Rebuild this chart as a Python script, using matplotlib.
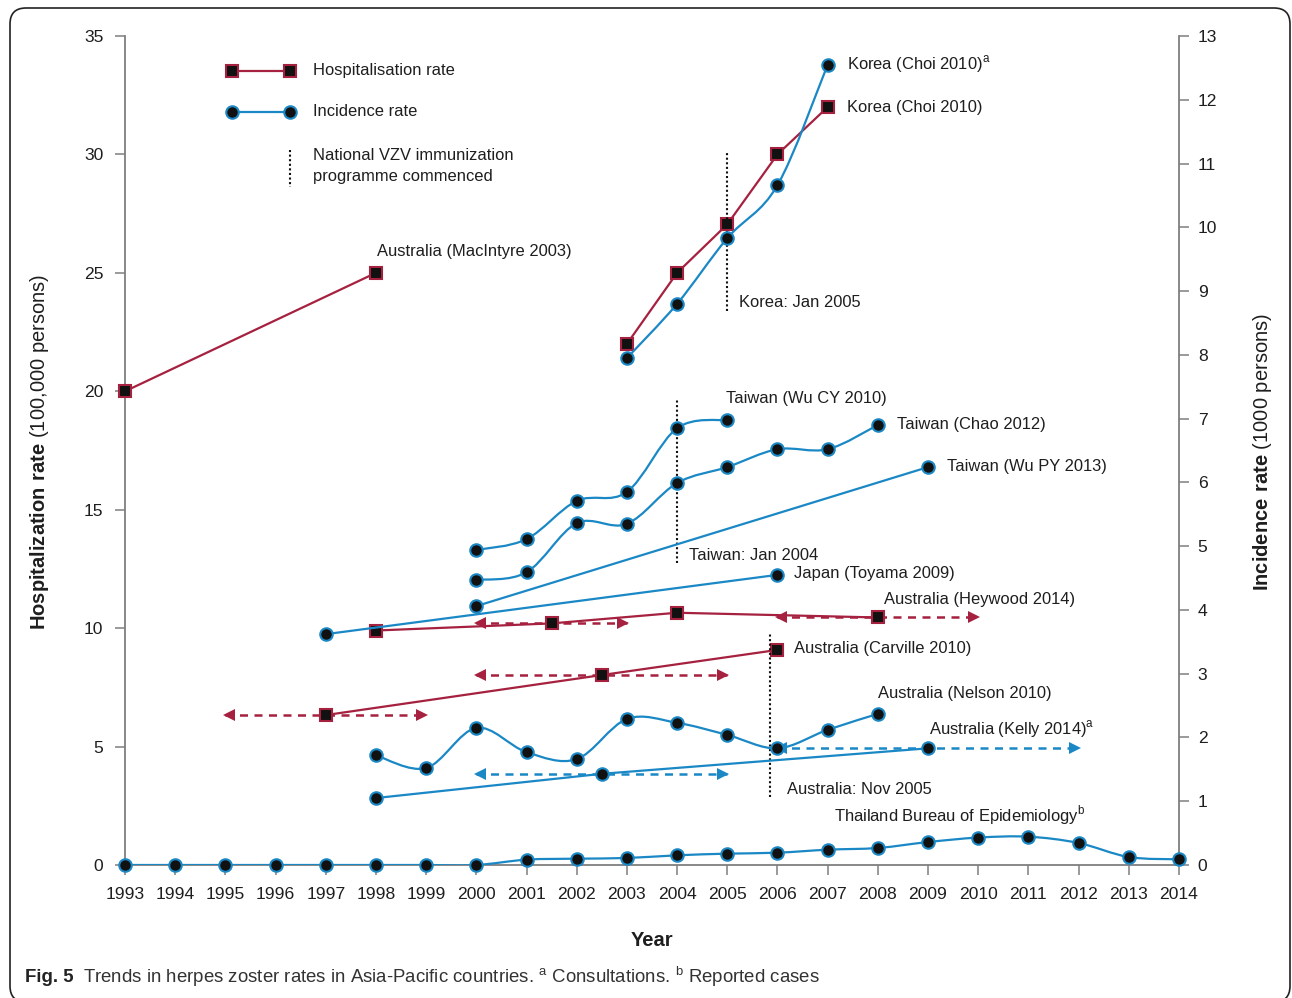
import numpy as np
import matplotlib
matplotlib.use("Agg")
import matplotlib.pyplot as plt
from matplotlib.path import Path
from matplotlib.patches import PathPatch, FancyBboxPatch
from matplotlib.transforms import IdentityTransform

plt.rcParams['font.family'] = ['Liberation Sans', 'DejaVu Sans']
plt.rcParams['mathtext.fontset'] = 'custom'
plt.rcParams['mathtext.rm'] = 'Liberation Sans'
plt.rcParams['mathtext.bf'] = 'Liberation Sans:bold'

# ---------------- data ----------------
years_axis = list(range(1993, 2015))

# Hospitalisation rates (per 100,000) - left axis
macintyre_years = [1993, 1998]
macintyre_rate = [20.0, 25.0]

korea_hosp_years = [2003, 2004, 2005, 2006, 2007]
korea_hosp_rate = [22.0, 25.0, 27.05, 30.0, 32.0]

heywood_years = [1998, 2001.5, 2004, 2008]
heywood_rate = [9.9, 10.2, 10.65, 10.45]
heywood_spans = [(2000, 2003), (2006, 2010)]
heywood_span_centres = [2001.5, 2008]

carville_years = [1997, 2002.5, 2006]
carville_rate = [6.33, 8.02, 9.08]
carville_spans = [(1995, 1999), (2000, 2005)]
carville_span_centres = [1997, 2002.5]

# Incidence rates (per 1000) - right axis
korea_inc_years = [2003, 2004, 2005, 2006, 2007]
korea_inc_rate = [7.95, 8.80, 9.83, 10.66, 12.55]

wucy_years = [2000, 2001, 2002, 2003, 2004, 2005]
wucy_rate = [4.94, 5.11, 5.71, 5.85, 6.85, 6.98]

chao_years = [2000, 2001, 2002, 2003, 2004, 2005, 2006, 2007, 2008]
chao_rate = [4.47, 4.59, 5.36, 5.35, 5.99, 6.24, 6.52, 6.52, 6.90]

wupy_years = [2000, 2009]
wupy_rate = [4.06, 6.24]

toyama_years = [1997, 2006]
toyama_rate = [3.62, 4.55]

nelson_years = [1998, 1999, 2000, 2001, 2002, 2003, 2004, 2005, 2006, 2007, 2008]
nelson_rate = [1.72, 1.52, 2.15, 1.77, 1.66, 2.29, 2.23, 2.04, 1.83, 2.12, 2.37]

kelly_years = [1998, 2002.5, 2009]
kelly_rate = [1.05, 1.43, 1.83]
kelly_spans = [(2000, 2005), (2006, 2012)]
kelly_span_centres = [2002.5, 2009]

thai_years = list(range(1993, 2015))
thai_rate = [0, 0, 0, 0, 0, 0, 0, 0, 0.084, 0.099, 0.11, 0.152, 0.178, 0.193,
             0.24, 0.267, 0.36, 0.43, 0.444, 0.345, 0.125, 0.089]

# Start of national VZV immunisation programmes (decimal year)
programme_start = {'Korea: Jan 2005': 2005.0,
                   'Taiwan: Jan 2004': 2004.0,
                   'Australia: Nov 2005': 2005.85}

left_ticks = [0, 5, 10, 15, 20, 25, 30, 35]
right_ticks = list(range(0, 14))

# ---------------- styles ----------------
RED = '#a5213f'
BLUE = '#1b88c6'
MK = '#111111'
TXT = '#1e1e1e'
SPINE = '#7f7f7f'
FS = 11.9
TICK_FS = 12.6

fig = plt.figure(figsize=(12.92, 9.98), dpi=100)
ax = fig.add_axes([125 / 1292, 1 - 865 / 998, 1054 / 1292, 829 / 998])
ax2 = ax.twinx()

ax.set_xlim(1993, 2014)
ax.set_ylim(0, 35)
ax2.set_ylim(0, 13)

for a in (ax, ax2):
    a.patch.set_visible(False)
    a.spines['top'].set_visible(False)
ax.spines['right'].set_visible(False)
ax2.spines['left'].set_visible(False)
ax2.spines['bottom'].set_visible(False)
for s in ('left', 'bottom'):
    ax.spines[s].set_color(SPINE)
    ax.spines[s].set_linewidth(1.3)
ax2.spines['right'].set_color(SPINE)
ax2.spines['right'].set_linewidth(1.3)

ax.set_xticks(years_axis)
ax.set_xticklabels([str(y) for y in years_axis])
ax.set_yticks(left_ticks)
ax2.set_yticks(right_ticks)
ax.tick_params(axis='both', colors=SPINE, labelcolor=TXT, labelsize=TICK_FS,
               length=7.5, width=1.1, direction='out')
ax.tick_params(axis='x', pad=8)
ax.tick_params(axis='y', pad=8)
ax2.tick_params(axis='y', colors=SPINE, labelcolor=TXT, labelsize=TICK_FS,
                length=7.5, width=1.1, direction='out', pad=6)


def smooth_path(xs, ys):
    pts = np.column_stack([xs, ys]).astype(float)
    n = len(pts)
    verts = [pts[0]]
    codes = [Path.MOVETO]
    for i in range(n - 1):
        p0 = pts[i - 1] if i > 0 else pts[i]
        p1 = pts[i]
        p2 = pts[i + 1]
        p3 = pts[i + 2] if i + 2 < n else pts[i + 1]
        verts += [p1 + (p2 - p0) / 6.0, p2 - (p3 - p1) / 6.0, p2]
        codes += [Path.CURVE4] * 3
    return Path(verts, codes)


def hosp_series(xs, ys):
    ax.plot(xs, ys, color=RED, lw=1.6, zorder=3)
    ax.plot(xs, ys, ls='none', marker='s', ms=9, mfc=MK, mec=RED, mew=1.5,
            zorder=5, clip_on=False)


def inc_series(xs, ys, smooth=False):
    if smooth:
        ax2.add_patch(PathPatch(smooth_path(xs, ys), fill=False,
                                edgecolor=BLUE, lw=1.6, zorder=3))
    else:
        ax2.plot(xs, ys, color=BLUE, lw=1.6, zorder=3)
    ax2.plot(xs, ys, ls='none', marker='o', ms=9, mfc=MK, mec=BLUE, mew=1.5,
             zorder=6, clip_on=False)


def span_arrows(a, spans, centres, values, xs, color):
    lookup = dict(zip(xs, values))
    for (x0, x1), c in zip(spans, centres):
        y = lookup[c]
        a.plot([x0, x1], [y, y], color=color, lw=1.8, ls=(0, (3.2, 2.6)),
               zorder=2)
        a.plot([x0 + 0.08], [y], marker='<', ms=8, color=color, mew=0,
               zorder=2)
        a.plot([x1 - 0.08], [y], marker='>', ms=8, color=color, mew=0,
               zorder=2)


# hospitalisation rate series
hosp_series(macintyre_years, macintyre_rate)
hosp_series(korea_hosp_years, korea_hosp_rate)
hosp_series(heywood_years, heywood_rate)
hosp_series(carville_years, carville_rate)
span_arrows(ax, heywood_spans, heywood_span_centres, heywood_rate,
            heywood_years, RED)
span_arrows(ax, carville_spans, carville_span_centres, carville_rate,
            carville_years, RED)

# incidence rate series
inc_series(korea_inc_years, korea_inc_rate, smooth=True)
inc_series(wucy_years, wucy_rate, smooth=True)
inc_series(chao_years, chao_rate, smooth=True)
inc_series(wupy_years, wupy_rate)
inc_series(toyama_years, toyama_rate)
inc_series(nelson_years, nelson_rate, smooth=True)
inc_series(kelly_years, kelly_rate)
inc_series(thai_years, thai_rate, smooth=True)
span_arrows(ax2, kelly_spans, kelly_span_centres, kelly_rate,
            kelly_years, BLUE)


# series labels
def label(a, text, x, y, dx, dy):
    a.annotate(text, (x, y), xytext=(dx, dy), textcoords='offset pixels',
               ha='left', va='center', fontsize=FS, color=TXT, zorder=8)


label(ax, 'Australia (MacIntyre 2003)', macintyre_years[-1], macintyre_rate[-1], 1, 21)
label(ax2, 'Korea (Choi 2010)$^{\\mathrm{a}}$', korea_inc_years[-1], korea_inc_rate[-1], 19, 1)
label(ax, 'Korea (Choi 2010)', korea_hosp_years[-1], korea_hosp_rate[-1], 19, 0)
label(ax2, 'Taiwan (Wu CY 2010)', wucy_years[-1], wucy_rate[-1], -1, 21)
label(ax2, 'Taiwan (Chao 2012)', chao_years[-1], chao_rate[-1], 19, 0)
label(ax2, 'Taiwan (Wu PY 2013)', wupy_years[-1], wupy_rate[-1], 19, 1)
label(ax2, 'Japan (Toyama 2009)', toyama_years[-1], toyama_rate[-1], 17, 1)
label(ax, 'Australia (Heywood 2014)', heywood_years[-1], heywood_rate[-1], 6, 18)
label(ax, 'Australia (Carville 2010)', carville_years[-1], carville_rate[-1], 17, 1)
label(ax2, 'Australia (Nelson 2010)', nelson_years[-1], nelson_rate[-1], 0, 20)
label(ax2, 'Australia (Kelly 2014)$^{\\mathrm{a}}$', kelly_years[-1], kelly_rate[-1], 1, 19)
label(ax2, 'Thailand Bureau of Epidemiology$^{\\mathrm{b}}$', thai_years[18], thai_rate[18], -194, 21)

# immunisation programme markers
prog_extent = {'Korea: Jan 2005': (23.4, 30.1),
               'Taiwan: Jan 2004': (12.75, 19.7),
               'Australia: Nov 2005': (2.87, 9.85)}
for name, x in programme_start.items():
    y0, y1 = prog_extent[name]
    ax.plot([x, x], [y0, y1], color='#111111', lw=1.5, ls=(0, (1, 1.2)),
            zorder=7)
    dx = 17 if name.startswith('Australia') else 12
    ax.annotate(name, (x, y0), xytext=(dx, 8), textcoords='offset pixels',
                ha='left', va='center', fontsize=FS, color=TXT)

# key
tr = ax.transAxes


def fx(px):
    return (px - 125) / 1054


def fy(py):
    return (865 - py) / 829


ax.plot([fx(232), fx(290)], [fy(71)] * 2, color=RED, lw=1.6, transform=tr,
        clip_on=False)
ax.plot([fx(232), fx(290)], [fy(71)] * 2, ls='none', marker='s', ms=9,
        mfc=MK, mec=RED, mew=1.5, transform=tr, clip_on=False)
ax.plot([fx(232), fx(290)], [fy(112)] * 2, color=BLUE, lw=1.6, transform=tr,
        clip_on=False)
ax.plot([fx(232), fx(290)], [fy(112)] * 2, ls='none', marker='o', ms=9,
        mfc=MK, mec=BLUE, mew=1.5, transform=tr, clip_on=False)
ax.plot([fx(290), fx(290)], [fy(150), fy(187)], color='#111111', lw=1.5,
        ls=(0, (1, 1.2)), transform=tr)
ax.text(fx(313), fy(71), 'Hospitalisation rate', transform=tr, ha='left',
        va='center', fontsize=FS, color=TXT)
ax.text(fx(313), fy(112), 'Incidence rate', transform=tr, ha='left',
        va='center', fontsize=FS, color=TXT)
ax.text(fx(313), fy(166.5), 'National VZV immunization\nprogramme commenced',
        transform=tr, ha='left', va='center', fontsize=FS, color=TXT,
        linespacing=1.5)

# axis titles
fig.text(40 / 1292, 1 - 452 / 998,
         '$\\mathbf{Hospitalization\\ rate}$ (100,000 persons)',
         rotation=90, ha='center', va='center', fontsize=14.5, color=TXT)
fig.text(1263 / 1292, 1 - 452 / 998,
         '$\\mathbf{Incidence\\ rate}$ (1000 persons)',
         rotation=90, ha='center', va='center', fontsize=14.5, color=TXT)
fig.text(652 / 1292, 1 - 940 / 998, 'Year', ha='center', va='center',
         fontsize=14.5, fontweight='bold', color=TXT)

# caption
fig.text(25 / 1292, 1 - 977 / 998, 'Fig. 5', ha='left', va='center',
         fontsize=13.4, fontweight='bold', color='#222222')
fig.text(83 / 1292, 1 - 977 / 998,
         'Trends in herpes zoster rates in Asia-Pacific countries. '
         '$^{\\mathrm{a}}$ Consultations. $^{\\mathrm{b}}$ Reported cases',
         ha='left', va='center', fontsize=13.4, color='#333333')

# frame
fig.add_artist(FancyBboxPatch((10, -4), 1280, 994,
                              boxstyle='round,pad=0,rounding_size=16',
                              transform=IdentityTransform(), fill=False,
                              edgecolor='#222222', lw=1.2))

fig.savefig('out.png', dpi=100)
